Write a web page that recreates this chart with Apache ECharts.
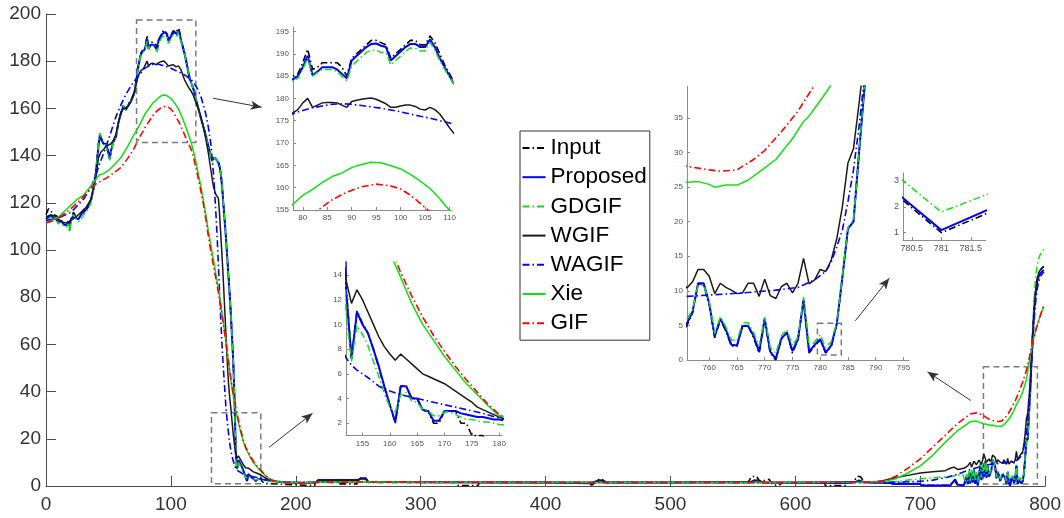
<!DOCTYPE html>
<html>
<head>
<meta charset="utf-8">
<script src="https://cdn.jsdelivr.net/npm/echarts@6/dist/echarts.min.js"></script>
<style>
  html, body { margin: 0; padding: 0; background: #fff; }
  #chart { width: 1064px; height: 518px; }
</style>
</head>
<body>
<div id="chart"></div>
<script>
// ---- signal profiles: [sample index, intensity] ----
const inputData = [
[0,115],[2,117.5],[4,116.5],[6,115],[8,114.5],[10,114],[12,113],[14,111],[16,110.5],[18,111],[19,108],[20,113],[22,116],[24,114],[26,113.5],[28,115],[30,117],[32,118],[34,119],[36,121],[38,126],[40,133],[42,145],[43,149],[44,148],[46,145],[48,145],[50,141],[51,138],[52,142],[54,146],[56,148],[58,154],[60,158],[62,161.5],[64,159.5],[66,162],[68,163.5],[70,166],[71,167.5],[72,171],[73,175],[74,178.5],[75,181],[76,183.3],[77,184.5],
[78,185],[79,185.5],[80,188],[81,191],[82,186.5],[83,187],[84,188],[85,188],[86,188],[87,188],[88,187],[89,185],[90,189],[91,190],[92,191],[93,192],[94,193],[95,193],[96,192.5],[97,192],[98,189],[99,190],[100,191],[101,192],[102,193],[103,193],[104,192],[105,192],[106,194],[107,192.5],[108,190],[109,187.5],[110,185.5],[111,183.5],[112,181],[113,178.5],[114,175.5],[115,173],[116,171.5],[117,170],[118,168.5],[119,166.5],[120,164],[122,160],[124,156],[126,152.5],[128,148.5],[130,144],[132,140],[133,138],[134,139.3],[135,139.5],[136,138.8],[137,138],[138,137.3],[139,135.5],[140,132.5],[141,127],[142,120],[143,113],[144,106],[145,98],[146,90],[147,82],[148,73],[149,63],[150,52],[151,36],
[152,13.2],[153,7.2],[154,11.1],[155,10.1],[156,9.3],[157,8],[158,6.5],[159,4.9],[160,3.5],[161,2],[162,5],[163,5],[164,4],[165,4],[166,3],[167,3],[168,2],[169,2],[170,3],[171,3],[172,3],[173,2],[174,2],[175,1],[176,1],[177,1],[178,0.2],[215,0.2],[216,1.8],[232,1.8],[233,0.9],[249,0.9],[250,2.5],[252,3.3],[256,3.3],[258,1.5],[329,1.5],[330,0.2],[346,0.2],[347,1.5],[432,1.5],[437,0.4],[440,1.5],[443,3.1],[446,2.5],[449,1.5],[562,1.5],[565,4],[569,4],[572,1.5],[576,2.6],[579,2.8],[582,0.4],[587,0.3],[590,1.5],[623,1.5],[624,0.2],[641,0.2],[642,1.5],[647,1.6],[649,4],[652,4],[655,1.8],[660,1.5],[678,1.2],[700,1],[704,0.3],[724,0.3],[727,2.5],[730,0.3],[735,0.3],
[736,0.5],[737,4],[738,0.8],[739,5.5],[740,1],[741,6],[742,1.5],[743,7],[744,1],[745,5],[746,0.3],[747,3.5],[748,9],[749,2.5],[750,8],[751,4],[752,10.5],[753,3.5],[754,8.5],[755,4],
[756,5],[757,6.8],[758,11],[759,11],[760,8],[761,3.2],[762,5.8],[763,4.2],[764,2],[765,2],[766,5],[767,5],[768,3.2],[769,1],[770,5.8],[771,1],[772,0],[773,3],[774,4],[775,1],[776,3],[777,8.6],[778,1],[779,2],[780,2.92],[781,1.0],[782,1.96],[783,5.2],[784,12],[785,19],[786,20],[787,30],[788,40],[789,52],[790,64],[791,74],[792,81],[793,85.5],[794,88.5],[795,90.5],[796,91.5],[797,92.2],[798,92.7],[799,93]
];

const proposedData = [
[0,113],[2,114],[4,114.5],[6,113.5],[8,113],[10,112],[12,112.5],[14,111],[16,110.5],[18,112],[19,111],[20,113],[22,114.5],[24,113.5],[26,113],[28,115],[30,116],[32,117],[34,118.5],[36,121],[38,126],[40,133],[42,144],[43,148],[44,147.5],[46,145],[48,145],[50,141.5],[51,139],[52,142],[54,146],[56,148],[58,154],[60,158],[62,161],[64,159.5],[66,161.5],[68,163],[70,165.5],[71,167],[72,170.5],[73,174.5],[74,178],[75,180.5],[76,182.8],[77,184],
[78,184.3],[79,185],[80,187],[81,189.5],[82,185.2],[83,186],[84,187],[85,187],[86,187],[87,186.5],[88,185.5],[89,184.5],[90,188.5],[91,189.5],[92,190.5],[93,191.5],[94,192.2],[95,192.3],[96,191.8],[97,191.5],[98,188.5],[99,189.5],[100,190.5],[101,191.5],[102,192.2],[103,192.2],[104,191.5],[105,191.5],[106,193.2],[107,191.5],[108,189],[109,187],[110,185],[111,183],[112,180.5],[113,178],[114,175],[115,172.7],[116,171.2],[117,169.7],[118,168.2],[119,166.2],[120,163.8],[122,159.8],[124,155.8],[126,152.3],[128,148.3],[130,143.8],[132,139.8],[133,137.8],[134,139],[135,139.3],[136,138.6],[137,137.8],[138,137],[139,135.2],[140,132.2],[141,126.7],[142,119.7],[143,112.7],[144,105.7],[145,97.7],[146,89.7],[147,81.7],[148,72.7],[149,62.7],[150,51.7],[151,35.7],
[152,12.9],[153,7.2],[154,11],[155,10],[156,9.3],[157,8],[158,6.6],[159,5],[160,3.5],[161,2.1],[162,5],[163,5],[164,4],[165,4],[166,3.1],[167,3],[168,2.2],[169,2.2],[170,3],[171,3],[172,3],[173,2.8],[174,2.7],[175,2.6],[176,2.5],[177,2.5],[178,2.4],[179,2.3],[180,2.3],[185,1.9],[190,1.6],[200,1.4],[216,1.5],[218,2.5],[250,2.6],[252,3.3],[256,3.3],[258,1.8],[300,1.6],[400,1.5],[436,1.2],[443,2.5],[448,1.5],[500,1.5],[564,1.6],[567,2.4],[571,2.2],[574,1.5],[625,1.3],[640,1.3],[648,1.6],[651,2.4],[655,1.6],[660,1.5],[670,1.4],[676,1.3],[678,0.8],[700,0.8],[702,0.2],[724,0.2],[726,1.5],[728,2.8],[730,0.5],[735,0.3],
[736,0.5],[737,4],[738,0.8],[739,5.5],[740,1],[741,6],[742,1.5],[743,7],[744,1],[745,5],[746,0.3],[747,3.5],[748,9],[749,2.5],[750,8],[751,4],[752,10.5],[753,3.5],[754,8.5],[755,4],
[756,5.3],[757,7],[758,11.1],[759,11.1],[760,8.2],[761,3.4],[762,6],[763,4.4],[764,2.2],[765,2.1],[766,4.9],[767,4.9],[768,3.5],[769,1.2],[770,6],[771,1.2],[772,0.2],[773,3.1],[774,4],[775,1.3],[776,3],[777,8.7],[778,1.2],[779,2.2],[780,3.0],[781,1.1],[782,2.1],[783,5.3],[784,12],[785,19],[786,20],[787,30],[788,39.5],[789,52],[790,63],[791,73],[792,80],[793,84.5],[794,87.5],[795,89],[796,90],[797,90.7],[798,91.2],[799,91.5]
];

const gdgifData = [
[0,112],[2,113],[4,114],[6,113],[8,112.5],[10,111],[12,112],[14,110],[16,109.5],[18,111],[19,107.5],[20,112],[22,115],[24,113],[26,112],[28,113],[30,115],[32,116],[34,117.5],[36,120],[38,125],[40,132],[42,145],[43,149.5],[44,148.5],[46,145.5],[48,144],[50,140],[51,138],[52,141.5],[54,146],[56,147.5],[58,153.5],[60,157.5],[62,161],[64,159],[66,161.5],[68,163],[70,165.5],[71,167],[72,170.5],[73,174.5],[74,178],[75,180.5],[76,182.5],[77,183.5],
[78,184],[79,184.5],[80,186.5],[81,189],[82,185],[83,185.8],[84,186.5],[85,186.5],[86,186.5],[87,186],[88,185],[89,184],[90,187.2],[91,188.3],[92,189.3],[93,190.3],[94,190.8],[95,190.8],[96,190.3],[97,190.3],[98,187.5],[99,188.5],[100,189.5],[101,190.5],[102,191.3],[103,191.2],[104,190.6],[105,190.6],[106,192.6],[107,190.8],[108,188.5],[109,186.5],[110,184.8],[111,183],[112,180.5],[113,178],[114,175.2],[115,172.8],[116,171.3],[117,169.8],[118,168.3],[119,166.3],[120,163.8],[122,159.8],[124,155.8],[126,152.3],[128,148.2],[130,143.7],[132,139.6],[133,137.5],[134,139],[135,139.5],[136,138.7],[137,138],[138,137.2],[139,135.5],[140,132.5],[141,127],[142,120],[143,113],[144,106],[145,98],[146,90],[147,82],[148,73],[149,63],[150,52],[151,35],
[152,10.8],[153,7],[154,9.9],[155,9.2],[156,8.3],[157,7],[158,5.8],[159,4.4],[160,3.3],[161,2.9],[162,4.3],[163,4.5],[164,3.8],[165,3.7],[166,3.1],[167,3],[168,2.6],[169,2.6],[170,2.9],[171,2.9],[172,2.7],[173,2.5],[174,2.3],[175,2.3],[176,2.2],[177,2.1],[178,2.1],[179,2],[180,1.9],[185,1.7],[190,1.5],[200,1.4],[250,1.9],[300,1.5],[400,1.5],[500,1.5],[600,1.5],[650,1.6],[660,1.6],[680,1.8],[690,2.5],[700,3],[710,3.5],[720,3.8],[730,4.5],[734,5],
[736,1.5],[737,5],[738,2],[739,6.5],[740,2],[741,7],[742,2.5],[743,8],[744,2],[745,6],[746,1.5],[747,4.5],[748,9.5],[749,3.5],[750,8.5],[751,5],[752,11],[753,4.5],[754,9],[755,5],
[756,6],[757,7.2],[758,10.8],[759,10.8],[760,8.5],[761,3.8],[762,6.2],[763,4.8],[764,2.9],[765,2.8],[766,5.4],[767,5.4],[768,4],[769,2],[770,6.2],[771,1.8],[772,1],[773,3.5],[774,4.4],[775,2.1],[776,3.3],[777,9.1],[778,2],[779,2.6],[780,3.65],[781,1.8],[782,2.67],[783,5.4],[784,12.2],[785,19.2],[786,20.2],[787,30],[788,40],[789,53],[790,66],[791,78],[792,86],[793,91],[794,94.5],[795,96.5],[796,98],[797,99],[798,99.8],[799,100.3]
];

const wgifData = [
[0,114],[4,115],[8,114],[12,112],[16,111.5],[20,112.5],[24,114],[28,116],[32,118],[36,121.5],[40,131],[42,139],[44,141.5],[46,142.5],[48,144],[50,144.5],[52,145],[54,146.5],[56,149],[58,154],[60,158],[62,160],[64,160],[66,161],[68,163],[70,165.5],[72,170],[74,174],[76,176],[77,176.5],
[78,176.8],[79,177.5],[80,179],[81,180],[82,178],[83,178.5],[84,179],[85,179.1],[86,179.1],[87,179],[88,178.5],[89,178],[90,179.3],[91,179.6],[92,179.8],[93,180],[94,180.1],[95,179.8],[96,179.3],[97,178.8],[98,178],[99,178],[100,178.3],[101,178.5],[102,178.5],[103,178.2],[104,177.6],[105,177.4],[106,178],[107,177.5],[108,176.5],[109,175],[110,173.4],[111,172],[112,171],[114,169],[116,167.5],[118,165.5],[120,162.5],[122,160],[124,156.5],[126,152],[128,147],[130,141],[132,134],[134,127],[136,123.5],[137,122.8],[138,122],[139,115],[140,106],[141,97],[142,87],[143,76],[144,65],[145,54],[146,44.5],[147,38],[148,33],[149,27],[150,21.5],[151,17],
[152,13.6],[153,11.7],[154,12.8],[155,12],[156,11],[157,10],[158,9],[159,8.2],[160,7.6],[161,7.1],[162,7.6],[163,7.2],[164,6.8],[165,6.4],[166,6],[167,5.8],[168,5.6],[169,5.4],[170,5.2],[171,4.9],[172,4.6],[173,4.3],[174,4],[175,3.7],[176,3.3],[177,3.1],[178,2.9],[179,2.7],[180,2.5],[182,2.2],[185,1.9],[190,1.6],[200,1.4],[216,1.5],[218,2.2],[250,2.4],[252,3],[256,3],[258,1.8],[300,1.6],[400,1.5],[440,1.5],[444,2.5],[448,1.5],[500,1.5],[566,1.8],[570,2.5],[574,1.6],[600,1.5],[650,1.8],[660,1.6],[670,2.2],[680,3.5],[690,4.5],[700,5.5],[710,6],[720,6.5],[724,7.5],[727,8],[730,7],[735,7.5],[738,8.5],[740,10],[741,8],[743,10.5],[745,9],[747,11],[749,9],[751,13.5],[753,10],[755,11.5],
[756,10.4],[757,11.3],[758,13.1],[759,13.1],[760,12.1],[761,9.6],[762,11.1],[763,10.5],[764,10.1],[765,9.6],[766,9.7],[767,11.1],[768,11.1],[769,9.2],[770,11.7],[771,9.3],[772,8.9],[773,10.6],[774,11.1],[775,9.7],[776,11.1],[777,14.7],[778,11],[779,11.6],[780,13.1],[781,12.8],[782,14.5],[783,17.6],[784,22.2],[785,28.5],[786,30.6],[787,37.1],[788,44],[789,54],[790,64],[791,73],[792,80],[793,85],[794,88.5],[795,90.5],[796,91.5],[797,92],[798,92.5],[799,92.8]
];

const wagifData = [
[0,112.5],[10,113.5],[20,116],[30,121.5],[36,126.5],[40,132],[44,138],[48,143.5],[52,150],[56,156.5],[60,161.5],[64,166],[68,169.5],[72,172.5],[76,175],[78,176.6],[80,177.3],[82,177.9],[84,178.3],[86,178.7],[88,178.8],[90,178.7],[92,178.4],[94,178.1],[96,177.8],[98,177.4],[100,177],[102,176.5],[104,176],[106,175.6],[108,175],[110,174.5],[112,173.8],[114,173],[116,172.3],[118,171],[120,169.5],[122,167.5],[124,165],[126,161.5],[128,157.5],[130,152],[132,145],[133,139],[134,133],[135,125],[136,116],[137,106],[138,94],[139,82],[140,70],[141,59],[142,50],[143,42],[144,34],[145,28],[146,23],[147,18.5],[148,15],[149,12.5],[150,10.5],[151,8.8],[152,7.3],[153,6.7],[154,6.3],[156,5.7],[158,5],[160,4.6],[162,4.3],[165,4],[168,3.7],[171,3.4],[174,3.1],[177,2.8],[180,2.4],[185,2],[190,1.7],[200,1.5],[250,1.7],[300,1.6],[400,1.5],[500,1.5],[600,1.5],[660,1.5],[680,1.6],[700,2],[710,2.5],[720,3.5],[730,5],[740,7],[750,8.5],[756,9.2],[760,9.4],[766,9.7],[772,10.1],[776,10.5],[779,11.6],[781,12.8],[782,14.2],[783,16.4],[784,18.8],[785,22.9],[786,27.5],[787,33.8],[788,41],[789,50],[790,60],[791,69],[792,76],[793,81],[794,84.5],[795,87],[796,88.5],[797,89.5],[798,90.2],[799,90.7]
];

const xieData = [
[0,111.5],[5,112.5],[10,114],[15,116.5],[20,119],[25,121.5],[30,123.3],[35,126.5],[40,130],[43,132],[45,132],[50,133.7],[55,136.2],[60,139.2],[65,143.5],[70,148.5],[75,153],[78,156.3],[80,158.3],[82,159.6],[84,161.2],[86,162.5],[88,163.3],[90,164.5],[92,165.2],[94,165.7],[96,165.6],[98,164.9],[100,164.2],[102,163],[104,161.5],[106,159.8],[108,157.5],[110,154.9],[112,152],[114,149],[116,146],[118,142],[120,137.5],[122,132],[124,127],[126,121],[128,115],[130,108],[132,102],[134,96],[136,90],[138,83.5],[140,77],[142,69.5],[144,61.5],[146,53],[148,45],[150,38],[152,32],[154,27],[156,22.5],[158,18.8],[160,15.8],[162,13.8],[164,11.7],[166,10],[168,8.7],[170,7.4],[172,6.3],[174,5.2],[176,4.3],[178,3.4],[180,2.6],[185,1.9],[190,1.6],[200,1.4],[250,1.8],[300,1.6],[400,1.5],[500,1.5],[600,1.5],[650,1.6],[660,1.7],[670,1.9],[680,3],[690,5.5],[700,8.5],[710,13],[720,18.5],[730,23.5],[740,27.2],[745,27.5],[750,26.5],[756,25.7],[758,25.8],[760,25.4],[761,25],[763,25.3],[765,25.3],[767,26],[770,27.8],[772,29],[775,32],[777,34.5],[778,35.3],[780,37.5],[782,39.8],[785,45],[788,55],[790,61],[793,67],[796,72],[799,76]
];

const gifData = [
[0,111.5],[5,112.3],[10,113.5],[15,115.5],[20,117.5],[25,120],[30,122.6],[35,125.5],[40,128],[45,129.5],[50,131],[55,133],[60,135],[65,138.5],[70,142.5],[75,148],[78,150.5],[80,152.5],[83,154.9],[86,157.3],[89,159],[92,160.2],[95,160.8],[98,160.4],[100,159.7],[102,158.3],[104,156.5],[106,154.6],[108,152.5],[110,150],[112,147.5],[114,145],[116,143],[118,139.5],[120,135],[122,130],[124,125],[126,119.5],[128,113],[130,106],[132,99.5],[134,93.5],[136,88],[138,82],[140,75.5],[142,68.5],[144,61],[146,53],[148,45.5],[150,38.5],[152,33],[154,28],[156,23.5],[158,19.5],[160,16.3],[162,14.2],[164,12.3],[166,10.6],[168,9.1],[170,7.8],[172,6.6],[174,5.5],[176,4.5],[178,3.5],[180,2.7],[184,1.9],[190,1.5],[200,1.3],[250,1.7],[300,1.6],[400,1.5],[500,1.5],[600,1.4],[650,1.5],[660,1.6],[670,1.9],[680,4],[690,7.5],[700,11.5],[710,16.5],[720,21.5],[730,26.5],[740,30.5],[745,31],[750,30],[756,28],[760,27.5],[762,27.3],[765,27.5],[768,29],[770,30.3],[773,33],[776,36],[779,39.8],[782,44],[785,49],[788,56],[790,61],[793,67],[796,72],[799,77]
];

// ---- tick values of the zoomed panels ----
const zoomA_xTicks = [80, 85, 90, 95, 100, 105, 110];
const zoomA_yTicks = [155, 160, 165, 170, 175, 180, 185, 190, 195];
const zoomB_xTicks = [155, 160, 165, 170, 175, 180];
const zoomB_yTicks = [2, 4, 6, 8, 10, 12, 14];
const zoomC_xTicks = [760, 765, 770, 775, 780, 785, 790, 795];
const zoomC_yTicks = [0, 5, 10, 15, 20, 25, 30, 35];
const zoomD_xTicks = [780.5, 781, 781.5];
const zoomD_yTicks = [1, 2, 3];

// regions outlined on the main axes: [x0, y0, x1, y1]
const mainRegions = [
  [72.5, 197.5, 120, 145.5],
  [132.5, 31, 172, 1],
  [750.6, 50.5, 793.8, 0.85]
];
const zoomC_region = [779.5, 5.3, 783.8, 0.72];

// pointers from the outlined regions to their zoom panels: [from, to]
const pointers = [
  [[133.8, 164.3], [172.6, 160.5]],
  [[178.6, 16.4], [213.4, 30.8]],
  [[740.5, 36.2], [705.8, 48.4]],
  [[648, 70], [675.2, 88]]
];

const FONT = '"Liberation Sans", Arial, Helvetica, sans-serif';
const DASHDOT = [7, 3, 1.5, 3];

const lines = [
  { name: 'Input',    data: inputData,    color: '#000000', width: 1.6, type: DASHDOT },
  { name: 'Proposed', data: proposedData, color: '#0000ff', width: 2.0, type: 'solid' },
  { name: 'GDGIF',    data: gdgifData,    color: '#10e010', width: 1.5, type: DASHDOT },
  { name: 'WGIF',     data: wgifData,     color: '#1a1a1a', width: 1.5, type: 'solid' },
  { name: 'WAGIF',    data: wagifData,    color: '#0000ff', width: 1.6, type: DASHDOT },
  { name: 'Xie',      data: xieData,      color: '#10e010', width: 1.5, type: 'solid' },
  { name: 'GIF',      data: gifData,      color: '#ff0000', width: 1.6, type: DASHDOT }
];

const grids = [
  { left: 46,  top: 14,    width: 1000, height: 472 },
  { left: 293, top: 27,    width: 159,  height: 183 },
  { left: 346, top: 262.6, width: 156,  height: 173 },
  { left: 687, top: 86.2,  width: 222,  height: 273.8 },
  { left: 903, top: 173,   width: 82.6, height: 67 }
];

function mainAxis(gi, min, max, interval, margin) {
  return {
    type: 'value', gridIndex: gi, min: min, max: max, interval: interval,
    axisLine: { show: true, onZero: false, lineStyle: { color: '#4d4d4d', width: 1 } },
    axisTick: { show: true, inside: true, length: 10, lineStyle: { color: '#4d4d4d', width: 1 } },
    axisLabel: { show: true, fontSize: 19, color: '#333', margin: margin, fontFamily: FONT },
    splitLine: { show: false }
  };
}

function zoomAxis(gi, min, max, ticks, fontSize) {
  return {
    type: 'value', gridIndex: gi, min: min, max: max,
    axisLine: { show: true, onZero: false, lineStyle: { color: '#8c8c8c', width: 1 } },
    axisTick: { show: true, inside: true, length: 3, customValues: ticks, lineStyle: { color: '#8c8c8c' } },
    axisLabel: { show: true, customValues: ticks, fontSize: fontSize, color: '#555', margin: 4, fontFamily: FONT },
    splitLine: { show: false }
  };
}

const xAxes = [
  mainAxis(0, 0, 800, 100, 9),
  zoomAxis(1, 78, 110.5, zoomA_xTicks, 8),
  zoomAxis(2, 152, 180.5, zoomB_xTicks, 8),
  zoomAxis(3, 756, 796, zoomC_xTicks, 8),
  zoomAxis(4, 780.35, 781.75, zoomD_xTicks, 9)
];
const yAxes = [
  mainAxis(0, 0, 200, 20, 5),
  zoomAxis(1, 155, 196, zoomA_yTicks, 8),
  zoomAxis(2, 1, 15, zoomB_yTicks, 8),
  zoomAxis(3, 0, 39.6, zoomC_yTicks, 8),
  zoomAxis(4, 0.72, 3.3, zoomD_yTicks, 9)
];

const outlineStyle = { color: 'rgba(0,0,0,0)', borderColor: '#7a7a7a', borderWidth: 1.5, borderType: [6, 4] };
function regionPairs(list) {
  return list.map(r => [{ xAxis: r[0], yAxis: r[1] }, { xAxis: r[2], yAxis: r[3] }]);
}

const series = [];
lines.forEach((ln, li) => {
  grids.forEach((g, gi) => {
    const s = {
      type: 'line', name: ln.name, data: ln.data,
      xAxisIndex: gi, yAxisIndex: gi,
      symbol: 'none', showSymbol: false, clip: true, silent: true,
      color: ln.color,
      lineStyle: { color: ln.color, width: ln.width, type: ln.type },
      z: 2 + li
    };
    if (li === 0 && gi === 0) {
      s.markArea = { silent: true, itemStyle: outlineStyle, label: { show: false }, data: regionPairs(mainRegions) };
      s.markLine = {
        silent: true, symbol: ['none', 'arrow'], symbolSize: [7, 11],
        label: { show: false },
        lineStyle: { color: '#333', width: 1, type: 'solid' },
        data: pointers.map(p => [{ coord: p[0] }, { coord: p[1] }])
      };
    }
    if (li === 0 && gi === 3) {
      s.markArea = { silent: true, itemStyle: outlineStyle, label: { show: false }, data: regionPairs([zoomC_region]) };
    }
    series.push(s);
  });
});

const chart = echarts.init(document.getElementById('chart'), null, { renderer: 'canvas' });
chart.setOption({
  animation: false,
  backgroundColor: '#ffffff',
  grid: grids,
  xAxis: xAxes,
  yAxis: yAxes,
  legend: {
    orient: 'vertical', left: 520, top: 131,
    padding: [5, 3, 5, 1.5],
    backgroundColor: '#ffffff',
    borderColor: '#333', borderWidth: 1,
    itemWidth: 23, itemHeight: 14, itemGap: 5.2,
    itemStyle: { opacity: 0 },
    selectedMode: false,
    textStyle: { fontSize: 22.5, lineHeight: 24, color: '#000', fontFamily: FONT },
    data: lines.map(l => l.name)
  },
  series: series
});
</script>
</body>
</html>
